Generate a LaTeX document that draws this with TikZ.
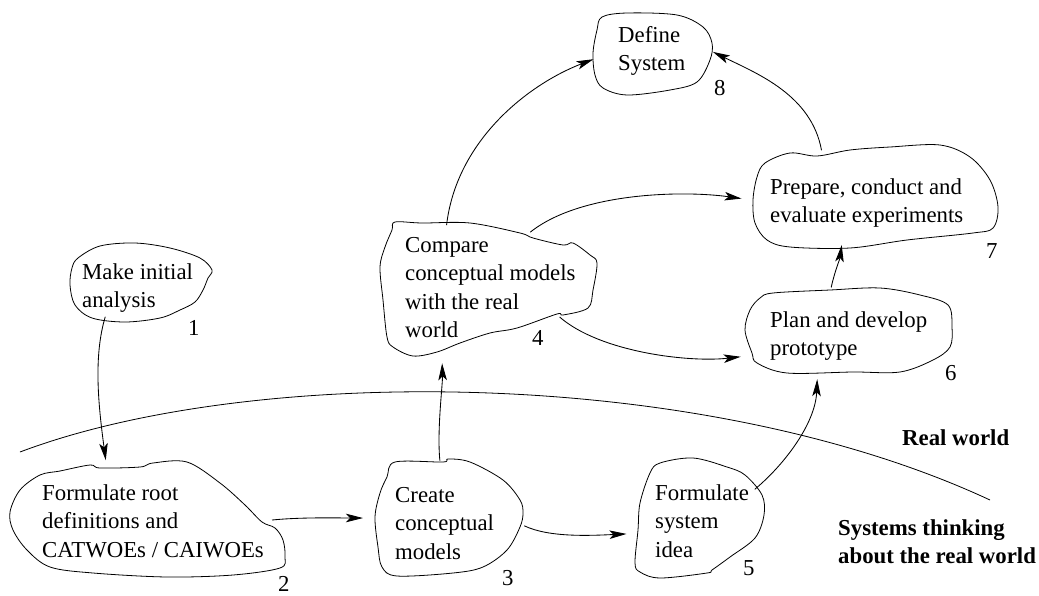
\documentclass[tikz,border=0pt]{standalone}
\usepackage{fontspec}
\setmainfont{Liberation Serif}
\usetikzlibrary{arrows.meta,shapes.geometric}
\begin{document}
\begin{tikzpicture}[x=1pt,y=-1pt,
  blob/.style={line width=0.8pt, line join=round},
  port/.style={ellipse, draw=none, inner sep=0pt, outer sep=0pt},
  lbl/.style={anchor=base west, inner sep=0pt, align=left, font=\fontsize{22.8}{28.5}\selectfont},
  num/.style={anchor=base west, inner sep=0pt, font=\fontsize{22.8}{28.5}\selectfont},
  zone/.style={anchor=base west, inner sep=0pt, align=left, font=\fontsize{22.8}{28.5}\selectfont\bfseries},
  arr/.style={line width=0.85pt, -{Stealth[length=17pt,width=8.5pt,inset=4pt]}},
]
\useasboundingbox (0,0) rectangle (1039,595);

% boundary between the real world and systems thinking
\draw[line width=0.8pt] (20,452) .. controls (250,365) and (700,365) .. (990,500);
\node[zone] (rw) at (902,445) {Real world};
\node[zone] (st) at (838,563.5) {Systems thinking\\about the real world};

% attachment regions of the activities
\node[port, minimum width=140pt, minimum height=80pt]  (b1) at (140,282) {};
\node[port, minimum width=260pt, minimum height=114pt] (b2) at (142,520) {};
\node[port, minimum width=150pt, minimum height=116pt] (b3) at (450,518) {};
\node[port, minimum width=176pt, minimum height=136pt] (b4) at (480,288) {};
\node[port, minimum width=128pt, minimum height=120pt] (b5) at (698,517) {};
\node[port, minimum width=210pt, minimum height=88pt]  (b6) at (847,331) {};
\node[port, minimum width=246pt, minimum height=102pt] (b7) at (876,196) {};
\node[port, minimum width=120pt, minimum height=82pt]  (b8) at (653,54) {};

% hand-drawn outlines
\draw[blob] plot[smooth cycle, tension=0.55] coordinates {
  (78,258) (100,246) (135,243) (170,248) (200,258) (212,270) (208,278) (203,290)
  (195,302) (180,310) (160,318) (125,322) (92,318) (75,305) (70,285) (72,268)};
\draw[blob] plot[smooth cycle, tension=0.55] coordinates {
  (40,475) (60,471) (90,465) (100,468) (140,467) (153,463) (187,462) (220,483)
  (245,505) (262,522) (275,528) (283,540) (285,557) (280,568) (233,575) (167,577)
  (93,573) (50,567) (27,550) (13,530) (10,512) (20,490)};
\draw[blob] plot[smooth cycle, tension=0.55] coordinates {
  (395,462) (443,462) (448,459) (470,462) (503,480) (520,500) (523,513) (520,527)
  (507,550) (483,567) (453,573) (397,576) (382,567) (378,547) (375,517) (380,493) (387,477)};
\draw[blob] plot[smooth cycle, tension=0.55] coordinates {
  (395,222) (422,223) (470,223) (520,233) (533,238) (563,245) (573,243) (590,255)
  (597,263) (593,290) (588,308) (563,315) (557,314) (517,328) (490,333) (460,343)
  (437,352) (413,356) (393,347) (387,337) (383,300) (380,267) (385,247) (392,230)};
\draw[blob] plot[smooth cycle, tension=0.55] coordinates {
  (660,463) (693,458) (727,467) (745,475) (762,495) (764,515) (755,538) (730,557)
  (712,570) (707,573) (660,578) (640,572) (635,563) (638,530) (640,503) (650,473)};
\draw[blob] plot[smooth cycle, tension=0.55] coordinates {
  (773,293) (830,290) (880,288) (920,295) (948,305) (952,327) (950,347) (933,360)
  (900,372) (853,372) (787,373) (757,363) (752,353) (745,330) (750,310) (760,298)};
\draw[blob] plot[smooth cycle, tension=0.55] coordinates {
  (765,163) (790,153) (817,156) (850,150) (890,147) (940,145) (970,157) (990,180)
  (998,207) (993,228) (973,233) (907,240) (850,248) (790,247) (767,240) (755,223)
  (753,200) (757,177)};
\draw[blob] plot[smooth cycle, tension=0.55] coordinates {
  (602,17) (627,13) (677,15) (703,27) (712,43) (710,60) (697,82) (670,90)
  (627,95) (603,88) (595,75) (593,53) (597,30)};

% activity texts (anchored at the baseline of the last line)
\node[lbl] (t1) at (82,307.5)  {Make initial\\analysis};
\node[lbl] (t2) at (42,557)    {Formulate root\\definitions and\\CATWOEs / CAIWOEs};
\node[lbl] (t3) at (395,559)   {Create\\conceptual\\models};
\node[lbl] (t4) at (405,337.5) {Compare\\conceptual models\\with the real\\world};
\node[lbl] (t5) at (655,557)   {Formulate\\system\\idea};
\node[lbl] (t6) at (770,355.5) {Plan and develop\\prototype};
\node[lbl] (t7) at (770,222.5) {Prepare, conduct and\\evaluate experiments};
\node[lbl] (t8) at (618,70.5)  {Define\\System};

% step numbers
\node[num] (n1) at (188,335) {1};
\node[num] (n2) at (278,591) {2};
\node[num] (n3) at (502,585) {3};
\node[num] (n4) at (532,345) {4};
\node[num] (n5) at (743,575) {5};
\node[num] (n6) at (945,380) {6};
\node[num] (n7) at (986,258) {7};
\node[num] (n8) at (714,95)  {8};

% flow between activities
\draw[arr, shorten >=5pt]  (b1.225) .. controls +(-12,40) and +(-8,-60) .. (b2.123);
\draw[arr, shorten >=12pt] (b2.east) .. controls +(30,-3) and +(-35,0) .. (b3.west);
\draw[arr, shorten >=14pt] (b3.100) .. controls +(-3,-30) and +(1,35) .. (b4.238);
\draw[arr, shorten >=10pt] (b3.-6) .. controls +(25,12) and +(-45,2) .. (b5.195);
\draw[arr, shorten >=6pt]  (b5.26) .. controls +(30,-25) and +(-2,50) .. (b6.235);
\draw[arr, shorten >=18pt] (b4.-20) .. controls +(40,35) and +(-70,8) .. (b6.195);
\draw[arr, shorten >=12pt] (b4.48) .. controls +(50,-40) and +(-70,-10) .. (b7.182);
\draw[arr]                 (b4.118) .. controls +(10,-85) and +(-65,25) .. (b8.185);
\draw[arr]                 (b7.140) .. controls +(-10,-55) and +(45,22) .. (b8.2);
\draw[arr]                 (b6.110) .. controls +(4,-18) and +(-2,15) .. (b7.235);
\end{tikzpicture}
\end{document}
